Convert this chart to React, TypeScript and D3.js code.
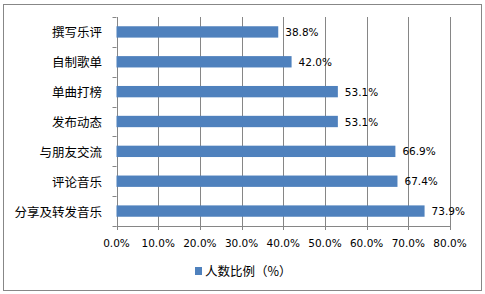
import React from "react";
import * as d3 from "d3";

const categories = ["撰写乐评", "自制歌单", "单曲打榜", "发布动态", "与朋友交流", "评论音乐", "分享及转发音乐"];
const values = [38.8, 42.0, 53.1, 53.1, 66.9, 67.4, 73.9];
const xTicks = [0, 10, 20, 30, 40, 50, 60, 70, 80];
const legendLabel = "人数比例（%）";

const W = 485;
const H = 294;
const M = { left: 116.5, right: 450, top: 17, bottom: 226 };
const CJK = "'Noto Sans CJK SC', 'Noto Sans', sans-serif";
const LAT = "'DejaVu Sans', sans-serif";

export default function App() {
  const x = d3.scaleLinear().domain([0, 80]).range([M.left, M.right]);
  const y = d3.scaleBand<string>().domain(categories).range([M.top, M.bottom]).paddingInner(0.62).paddingOuter(0.31);
  const step = y.step();
  const grid = "#868686";
  return (
    <svg width={W} height={H} style={{ position: "absolute", left: 0, top: 0 }}>
      <rect x={0} y={0} width={W} height={H} fill="#fff" />
      <rect x={3.5} y={4.5} width={478} height={286} fill="#fff" stroke="#878787" strokeWidth={1} />
      {xTicks.map((t) => (
        <line key={"g" + t} x1={Math.round(x(t)) + 0.5} x2={Math.round(x(t)) + 0.5} y1={M.top} y2={M.bottom + 4} stroke={grid} strokeWidth={1} />
      ))}
      {categories.map((c, i) => (
        <line key={"yt" + i} x1={M.left - 4} x2={M.left} y1={Math.round(M.top + i * step) + 0.5} y2={Math.round(M.top + i * step) + 0.5} stroke={grid} />
      ))}
      <line x1={M.left - 4} x2={M.left} y1={M.bottom + 0.5} y2={M.bottom + 0.5} stroke={grid} />
      <line x1={M.left} x2={M.right} y1={M.bottom + 0.5} y2={M.bottom + 0.5} stroke={grid} />
      {categories.map((c, i) => (
        <g key={c}>
          <rect x={x(0)} y={y(c)!} width={x(values[i]) - x(0)} height={y.bandwidth()} fill="#4F81BD" />
          <text x={x(values[i]) + 7} y={y(c)! + y.bandwidth() / 2} dominantBaseline="central" fontFamily={LAT} fontSize={10.5} fill="#000">
            {values[i].toFixed(1) + "%"}
          </text>
          <text x={102} y={y(c)! + y.bandwidth() / 2} dominantBaseline="central" textAnchor="end" fontFamily={CJK} fontSize={12.5} fill="#000">
            {c}
          </text>
        </g>
      ))}
      {xTicks.map((t) => (
        <text key={"xl" + t} x={x(t)} y={243} dominantBaseline="central" textAnchor="middle" fontFamily={LAT} fontSize={10.5} fill="#000">
          {t.toFixed(1) + "%"}
        </text>
      ))}
      <rect x={195} y={267} width={7} height={8} fill="#4F81BD" />
      <text x={205} y={270} dominantBaseline="central" fontFamily={CJK} fontSize={12.5} fill="#000">
        {legendLabel}
      </text>
    </svg>
  );
}
